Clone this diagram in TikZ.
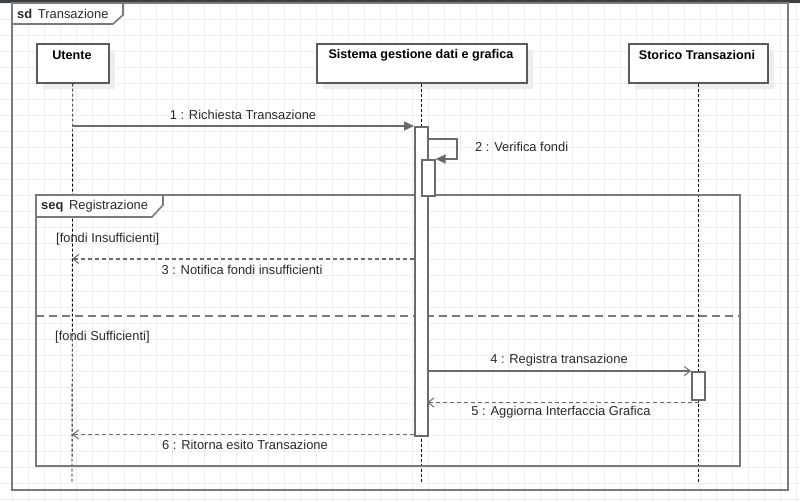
\documentclass[tikz,border=0pt]{standalone}
\usepackage{fontspec}
\setmainfont{Liberation Sans}
\usetikzlibrary{arrows.meta}
\definecolor{gridc}{HTML}{EFEFEF}
\definecolor{framec}{HTML}{7A7A7A}
\definecolor{boxc}{HTML}{5A5A5A}
\definecolor{msgc}{HTML}{6A6A6A}
\definecolor{txtc}{HTML}{2A2A2A}
\definecolor{shadowc}{HTML}{EDEDED}
\definecolor{barc}{HTML}{3C4043}
\tikzset{
  lbl/.style={font=\fontsize{12.9}{15}\selectfont, text=txtc, inner sep=0pt},
  headbox/.style={draw=boxc, line width=1.6pt, fill=white, anchor=north west, inner sep=0pt},
  headtxt/.style={font=\fontsize{12.6}{15}\selectfont\bfseries, text=black, inner sep=0pt},
  actbox/.style={draw=msgc, line width=1.6pt, fill=white, anchor=north west, inner sep=0pt, minimum width=13pt},
  lifeline/.style={draw=black, line width=0.9pt, dash pattern=on 3pt off 2pt},
  syncmsg/.style={draw=msgc, line width=1.5pt, -{Triangle[length=10pt,width=9pt]}},
  asyncmsg/.style={draw=msgc, line width=1.5pt, -{Straight Barb[length=6pt,width=9pt,line width=1pt]}},
  retmsg/.style={draw=msgc, line width=1.5pt, dash pattern=on 4pt off 3pt, -{Straight Barb[length=6pt,width=9pt,line width=1pt]}},
  fragline/.style={draw=framec, line width=1.6pt},
}
\begin{document}
\begin{tikzpicture}[x=1pt,y=-1pt]
\useasboundingbox (0,0) rectangle (800,502);
\fill[white] (0,0) rectangle (800,502);
% grid
\foreach \gx in {12.5,28.5,...,796.5} \draw[gridc, line width=0.8pt] (\gx,0) -- (\gx,502);
\foreach \gy in {3.5,19.5,...,499.5} \draw[gridc, line width=0.8pt] (0,\gy) -- (800,\gy);
\fill[barc] (0,0) rectangle (800,3);

% sd frame
\draw[fragline] (12,3) rectangle (788,490);
\draw[fragline, fill=white] (12,3) -- (123,3) -- (123,15) -- (113,24) -- (12,24) -- cycle;
\node[lbl, anchor=west] (sdlbl) at (17,14) {\textbf{sd}\, Transazione};

% lifeline heads with shadows
\fill[shadowc] (43,50) rectangle (115,89);
\fill[shadowc] (323,50) rectangle (533,89);
\fill[shadowc] (635,50) rectangle (774,89);
\node[headbox, minimum width=72pt, minimum height=39pt] (ut) at (36,43) {};
\node[headbox, minimum width=210pt, minimum height=39pt] (sg) at (316,43) {};
\node[headbox, minimum width=139pt, minimum height=39pt] (st) at (628,43) {};
\node[headtxt] (utt) at (72,55.5) {Utente};
\node[headtxt] (sgt) at (421,55.5) {Sistema gestione dati e grafica};
\node[headtxt] (stt) at (697,55.5) {Storico Transazioni};

% lifelines
\coordinate (utend) at (72,482);
\coordinate (sgend) at (421.5,482);
\coordinate (stend) at (698.5,482);
\draw[lifeline] (ut.south) -- (utend);
\draw[lifeline] (sg.south -| sgend) -- (sgend);
\draw[lifeline] (st.south -| stend) -- (stend);

% combined fragment
\draw[fragline] (36,195) rectangle (740,466);
\draw[fragline, fill=white] (36,195) -- (163,195) -- (163,205) -- (152,217) -- (36,217) -- cycle;
\node[lbl, anchor=west] (seqlbl) at (41,206) {\textbf{seq}\, Registrazione};
\coordinate (divl) at (36,316);
\coordinate (divr) at (740,316);
\draw[draw=framec, line width=1.6pt, dash pattern=on 8pt off 5pt] (divl) -- (divr);
\node[lbl, anchor=west] (g1) at (56,239.5) {[fondi Insufficienti]};
\node[lbl, anchor=west] (g2) at (55,337.5) {[fondi Sufficienti]};

% activations
\node[actbox, minimum height=309pt] (act1) at (414,126) {};
\node[actbox, minimum height=36pt] (act2) at (421,159) {};
\node[actbox, minimum height=28pt] (act3) at (691,371) {};

% messages
\coordinate (m1s) at (72,126);
\draw[syncmsg] (m1s) -- (act1.north west);
\node[lbl] (l1) at (243,115) {1 : Richiesta Transazione};

\coordinate (m2a) at (427,139);
\coordinate (m2b) at (457,139);
\coordinate (m2c) at (457,159);
\draw[syncmsg] (m2a) -- (m2b) -- (m2c) -- (act2.north east);
\node[lbl, anchor=west] (l2) at (475,147) {2 : Verifica fondi};

\coordinate (m3s) at (414,259);
\coordinate (m3e) at (72,259);
\draw[retmsg] (m3s) -- (m3e);
\node[lbl] (l3) at (242,269.5) {3 : Notifica fondi insufficienti};

\coordinate (m4s) at (427,371);
\draw[asyncmsg] (m4s) -- (act3.north west);
\node[lbl] (l4) at (559,360.5) {4 : Registra transazione};

\coordinate (m5s) at (698.5,402.5);
\coordinate (m5e) at (427,402.5);
\draw[retmsg] (m5s) -- (m5e);
\node[lbl] (l5) at (561,412.5) {5 : Aggiorna Interfaccia Grafica};

\coordinate (m6s) at (414,434.5);
\coordinate (m6e) at (72,434.5);
\draw[retmsg] (m6s) -- (m6e);
\node[lbl] (l6) at (245,444.5) {6 : Ritorna esito Transazione};
\end{tikzpicture}
\end{document}
